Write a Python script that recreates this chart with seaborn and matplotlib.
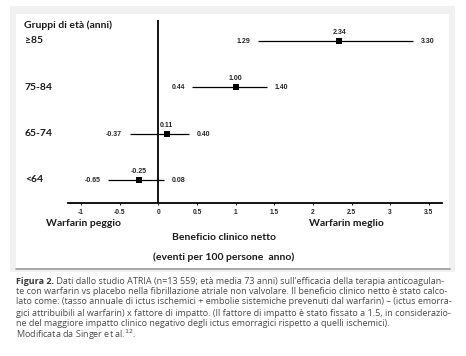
import numpy as np
import pandas as pd
import matplotlib
matplotlib.use("Agg")
import matplotlib.pyplot as plt
from matplotlib.patches import Rectangle
from matplotlib.transforms import blended_transform_factory
import seaborn as sns

# dati ATRIA: beneficio clinico netto per gruppo di età
groups = ["<64", "65-74", "75-84", "≥85"]
netto = [-0.25, 0.11, 1.00, 2.34]
low = [-0.65, -0.37, 0.44, 1.29]
high = [0.08, 0.40, 1.40, 3.30]

xticks = [-1, -0.5, 0, 0.5, 1, 1.5, 2, 2.5, 3, 3.5]
xtick_labels = ["-1", "-0.5", "0", "0.5", "1", "1.5", "2", "2.5", "3", "3.5"]

caption_head = "Figura 2."
caption_lines = [
    " Dati dallo studio ATRIA (n=13 559; età media 73 anni) sull'efficacia della terapia anticoagulan-",
    "te con warfarin vs placebo nella fibrillazione atriale non valvolare. Il beneficio clinico netto è stato calco-",
    "lato come: (tasso annuale di ictus ischemici + embolie sistemiche prevenuti dal warfarin) – (ictus emorra-",
    "gici attribuibili al warfarin) x fattore di impatto. (Il fattore di impatto è stato fissato a 1.5, in considerazio-",
    "ne del maggiore impatto clinico negativo degli ictus emorragici rispetto a quelli ischemici).",
    "Modificata da Singer et al.$^{12}$.",
]

df = pd.DataFrame({"gruppo": groups, "netto": netto, "low": low, "high": high})
df["pos"] = np.arange(len(df))

sns.set_style("white")
plt.rcParams["font.family"] = ["Lato", "DejaVu Sans"]

W, H = 466, 356
fig = plt.figure(figsize=(W / 100, H / 100), dpi=100)
fig.patch.set_facecolor("white")

def fx(px):
    return px / W

def fy(py):
    return 1 - py / H

# pannello con ombra
fig.patches.append(Rectangle((fx(10), fy(272)), fx(455) - fx(10), fy(6) - fy(272),
                             transform=fig.transFigure, facecolor="#f1f1f1", edgecolor="none", zorder=-3))
fig.patches.append(Rectangle((fx(16), fy(268)), fx(449) - fx(16), fy(14) - fy(268),
                             transform=fig.transFigure, facecolor="white", edgecolor="none", zorder=-2))
fig.lines.append(plt.Line2D([fx(16), fx(450)], [fy(268.5), fy(268.5)], transform=fig.transFigure,
                            color="#9a9a9a", lw=1.2, zorder=-1))

ax = fig.add_axes([fx(68), fy(203), fx(442) - fx(68), fy(20) - fy(203)])
ax.patch.set_alpha(0)
ax.set_zorder(2)

ax.hlines(df["pos"], df["low"], df["high"], color="black", lw=0.9, zorder=2)
sns.scatterplot(data=df, x="netto", y="pos", marker="s", s=24, color="black",
                linewidth=0, ax=ax, zorder=3, legend=False)
ax.axvline(0, color="black", lw=1.3, zorder=1)

vfont = dict(family="Liberation Sans", fontweight="bold", fontsize=5)
for _, r in df.iterrows():
    ax.annotate(f"{r.netto:.2f}", (r.netto, r.pos), xytext=(0, 6), textcoords="offset points",
                ha="center", va="center", **vfont)
    ax.annotate(f"{r.low:.2f}", (r.low, r.pos), xytext=(-5.5, -0.5), textcoords="offset points",
                ha="right", va="center", **vfont)
    ax.annotate(f"{r.high:.2f}", (r.high, r.pos), xytext=(5.5, -0.5), textcoords="offset points",
                ha="left", va="center", **vfont)

ax.set_xlim(-1.168, 3.67)
ax.set_ylim(-0.5, 3.45)
ax.set_xticks(xticks)
ax.set_xticklabels(xtick_labels, family="Liberation Sans", fontweight="bold", fontsize=4.8)
ax.tick_params(axis="x", length=1.5, width=0.8, pad=2.5, direction="out", bottom=True)
ax.set_yticks([])
ax.set_xlabel("")
ax.set_ylabel("")
for s in ["top", "right", "left"]:
    ax.spines[s].set_visible(False)
ax.spines["bottom"].set_linewidth(1.3)
ax.spines["bottom"].set_color("black")

# etichette dei gruppi
lbl = dict(fontweight="bold", fontsize=7.5, color="#1a1a1a")
trans = blended_transform_factory(fig.transFigure, ax.transData)
for _, r in df.iterrows():
    ax.text(fx(25), r.pos, r.gruppo, transform=trans, ha="left", va="center", **lbl)
fig.text(fx(24), fy(25), "Gruppi di età (anni)", ha="left", va="center", **lbl)
fig.text(fx(46), fy(224), "Warfarin peggio", ha="left", va="center", **lbl)
fig.text(fx(309), fy(224), "Warfarin meglio", ha="left", va="center", **lbl)
fig.text(fx(224), fy(237.5), "Beneficio clinico netto", ha="center", va="center", **lbl)
fig.text(fx(224), fy(257), "(eventi per 100 persone  anno)", ha="center", va="center", **lbl)

# didascalia
cap = dict(fontsize=6.5, color="#4a4a4a", family=["Open Sans", "DejaVu Sans"])
line_y = [281, 291.5, 302, 313, 324, 334.5]
head = fig.text(fx(16), fy(line_y[0]), caption_head, ha="left", va="center",
                fontweight="bold", fontsize=6.5, color="#3a3a3a", family=["Open Sans", "DejaVu Sans"])
fig.canvas.draw()
hb = head.get_window_extent()
fig.text(hb.x1 / W, fy(line_y[0]), caption_lines[0], ha="left", va="center", **cap)
for yy, t in zip(line_y[1:], caption_lines[1:]):
    fig.text(fx(16), fy(yy), t, ha="left", va="center", **cap)

fig.savefig("out.png", dpi=100)
